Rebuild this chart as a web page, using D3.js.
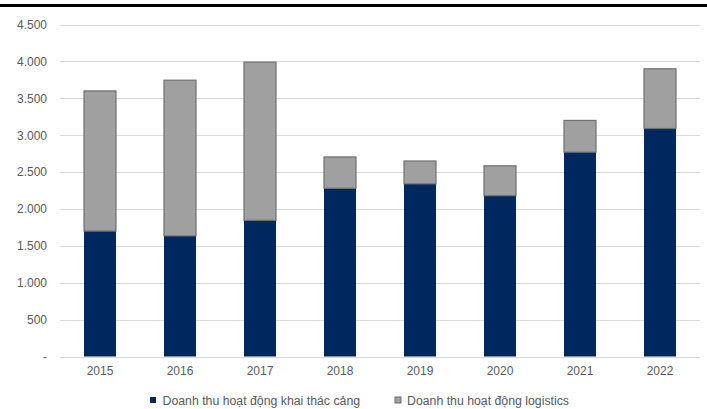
<!DOCTYPE html>
<html>
<head>
<meta charset="utf-8">
<script src="https://cdn.jsdelivr.net/npm/d3@7/dist/d3.min.js"></script>
<style>
  html, body { margin: 0; padding: 0; background: #fff; }
  svg { display: block; font-family: "Liberation Sans", Arial, sans-serif; }
</style>
</head>
<body>
<svg id="chart" width="707" height="409"></svg>
<script>
const years = ["2015", "2016", "2017", "2018", "2019", "2020", "2021", "2022"];
const portRevenue = [1700, 1635, 1845, 2280, 2340, 2180, 2770, 3090];
const logisticsRevenue = [1900, 2110, 2145, 425, 310, 405, 430, 810];
const seriesNames = ["Doanh thu hoạt động khai thác cảng", "Doanh thu hoạt động logistics"];
const yTicks = [0, 500, 1000, 1500, 2000, 2500, 3000, 3500, 4000, 4500];

const svg = d3.select("#chart");
const W = 707, H = 409;
const margin = { left: 60, right: 7, top: 24.5, bottom: 52.5 };
const x = d3.scaleBand().domain(years).range([margin.left, W - margin.right]).paddingInner(0.6).paddingOuter(0.3);
const y = d3.scaleLinear().domain([0, 4500]).range([H - margin.bottom, margin.top]);

// top black rule
svg.append("rect").attr("x", 0).attr("y", 4).attr("width", W).attr("height", 3).attr("fill", "#000");

// gridlines
svg.append("g").selectAll("line").data(yTicks).join("line")
  .attr("x1", margin.left).attr("x2", W - margin.right)
  .attr("y1", d => Math.round(y(d)) + 0.5).attr("y2", d => Math.round(y(d)) + 0.5)
  .attr("stroke", "#d9d9d9").attr("stroke-width", 1);

// y axis labels
const fmt = d => d === 0 ? "-" : d3.format(",")(d).replace(/,/g, ".");
const yAxis = d3.axisLeft(y).tickValues(yTicks).tickFormat(fmt).tickSize(0).tickPadding(0);
const gy = svg.append("g").attr("transform", `translate(47,0)`).call(yAxis);
gy.select(".domain").remove();
gy.selectAll("text").attr("fill", "#595959").attr("font-size", 12).attr("font-family", "Liberation Sans, Arial, sans-serif");

// stacked data
const data = years.map((yr, i) => ({ year: yr, port: portRevenue[i], logistics: logisticsRevenue[i] }));
const stack = d3.stack().keys(["port", "logistics"]);
const stacked = stack(data);
const colors = { port: "#00285e", logistics: "#a0a0a0" };
const strokes = { port: "none", logistics: "#6f6f6f" };

svg.append("g").selectAll("g").data(stacked).join("g")
  .attr("fill", d => colors[d.key])
  .attr("stroke", d => strokes[d.key])
  .attr("stroke-width", 1.2)
  .selectAll("rect").data(d => d).join("rect")
  .attr("x", d => x(d.data.year))
  .attr("width", x.bandwidth())
  .attr("y", d => y(d[1]))
  .attr("height", d => y(d[0]) - y(d[1]));

// x axis
const xAxis = d3.axisBottom(x).tickSize(0).tickPadding(0);
const gx = svg.append("g").attr("transform", `translate(0,${y(0) + 10})`).call(xAxis);
gx.select(".domain").remove();
gx.selectAll("text").attr("fill", "#595959").attr("font-size", 12).attr("font-family", "Liberation Sans, Arial, sans-serif");

// legend
const legendItems = [
  { name: seriesNames[0], color: colors.port, stroke: "none", sx: 150, tx: 162.5 },
  { name: seriesNames[1], color: colors.logistics, stroke: "#6f6f6f", sx: 395, tx: 407 }
];
const lg = svg.append("g");
legendItems.forEach(it => {
  lg.append("rect").attr("x", it.sx).attr("y", 397).attr("width", 6).attr("height", 6)
    .attr("fill", it.color).attr("stroke", it.stroke).attr("stroke-width", 1);
  lg.append("text").attr("x", it.tx).attr("y", 404.5).attr("fill", "#595959")
    .attr("font-size", 12.3).text(it.name);
});
</script>
</body>
</html>
